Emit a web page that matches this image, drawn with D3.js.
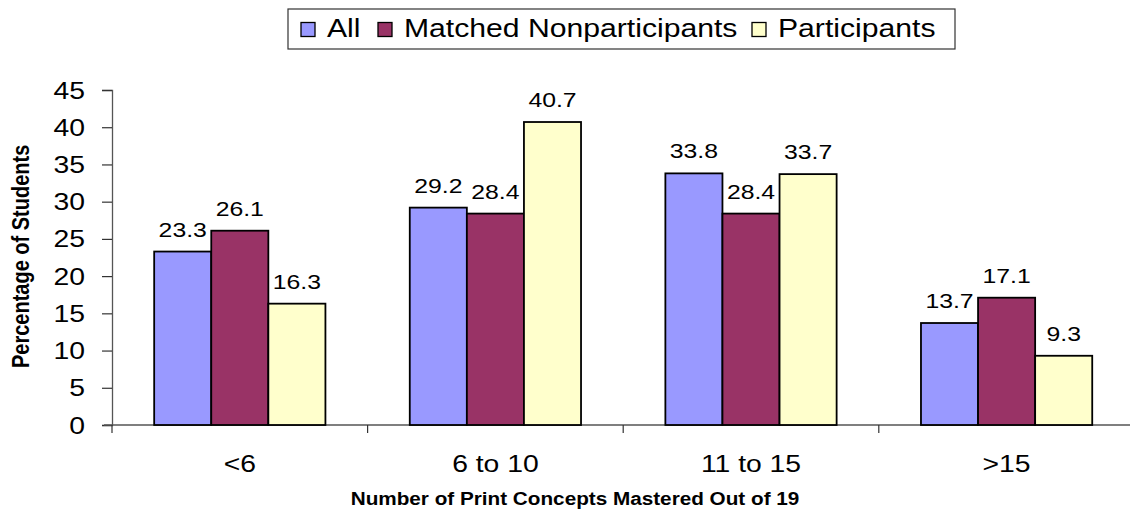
<!DOCTYPE html>
<html>
<head>
<meta charset="utf-8">
<script src="https://cdn.jsdelivr.net/npm/d3@7"></script>
<style>
body{margin:0;background:#fff;}
text{font-family:"Liberation Sans",Arial,sans-serif;fill:#000;}
</style>
</head>
<body>
<svg id="chart" width="1130" height="511"></svg>
<script>
const categories = ["<6", "6 to 10", "11 to 15", ">15"];
const seriesNames = ["All", "Matched Nonparticipants", "Participants"];
const allValues = [23.3, 29.2, 33.8, 13.7];
const matchedValues = [26.1, 28.4, 28.4, 17.1];
const participantValues = [16.3, 40.7, 33.7, 9.3];
const yTicks = [0, 5, 10, 15, 20, 25, 30, 35, 40, 45];
const colors = ["#9999FF", "#993366", "#FFFFCC"];

const series = [allValues, matchedValues, participantValues];
const svg = d3.select("#chart");
const x0 = 112, x1 = 112 + 4 * 255.6, yBottom = 425, yTop = 90;
const SX = 1.18; // horizontal stretch of the original chart's text

const x = d3.scaleBand().domain(categories).range([x0, x1]).paddingInner(0.33).paddingOuter(0.165);
const xs = d3.scaleBand().domain(seriesNames).range([0, x.bandwidth()]);
const y = d3.scaleLinear().domain([0, 45]).range([yBottom, yTop]);

// y axis
const yAxis = d3.axisLeft(y).tickValues(yTicks).tickSize(10).tickFormat("");
const gy = svg.append("g").attr("transform", `translate(${x0},0)`).call(yAxis);
gy.select(".domain").attr("stroke", "#555").attr("stroke-width", 1.3);
gy.selectAll(".tick line").attr("stroke", "#333").attr("stroke-width", 1.2);
svg.append("g").selectAll("text").data(yTicks).join("text")
  .attr("transform", d => `translate(85,${y(d) + 8.5}) scale(${SX},1)`)
  .attr("text-anchor", "end").attr("font-size", 24).text(d => d);

// x axis with ticks at category boundaries
const boundaryScale = d3.scaleLinear().domain([0, 4]).range([x0, x1]);
const gx = svg.append("g").attr("transform", `translate(0,${yBottom})`);
gx.append("line").attr("x1", x0 - 8).attr("x2", x1).attr("stroke", "#555").attr("stroke-width", 1.3);
gx.selectAll("line.tk").data([0, 1, 2, 3, 4]).join("line").attr("class", "tk")
  .attr("x1", d => boundaryScale(d)).attr("x2", d => boundaryScale(d)).attr("y1", 0).attr("y2", 8)
  .attr("stroke", "#333").attr("stroke-width", 1.2);
gx.selectAll("text.cat").data(categories).join("text").attr("class", "cat")
  .attr("transform", d => `translate(${x(d) + x.bandwidth() / 2},47) scale(${SX},1)`)
  .attr("text-anchor", "middle").attr("font-size", 24).text(d => d);

// bars
categories.forEach((c, ci) => {
  series.forEach((vals, si) => {
    const v = vals[ci];
    const bx = x(c) + xs(seriesNames[si]);
    svg.append("rect").attr("x", bx).attr("y", y(v)).attr("width", xs.bandwidth()).attr("height", y(0) - y(v))
      .attr("fill", colors[si]).attr("stroke", "#000").attr("stroke-width", 1.8);
    svg.append("text")
      .attr("transform", `translate(${bx + xs.bandwidth() / 2},${y(v) - 15}) scale(${SX},1)`)
      .attr("text-anchor", "middle").attr("font-size", 21).text(v.toFixed(1));
  });
});

// axis titles
svg.append("text").attr("transform", `translate(575,505) scale(1.12,1)`).attr("text-anchor", "middle")
  .attr("font-size", 18.5).attr("font-weight", "bold").text("Number of Print Concepts Mastered Out of 19");
svg.append("text").attr("transform", `translate(29,368) scale(1.2,1) rotate(-90)`).attr("text-anchor", "start")
  .attr("font-size", 20).attr("font-weight", "bold").text("Percentage of Students");

// legend
const lg = svg.append("g");
lg.append("rect").attr("x", 288).attr("y", 9).attr("width", 667).attr("height", 40).attr("fill", "#fff").attr("stroke", "#333").attr("stroke-width", 1.2);
const legendX = [301, 378, 752];
seriesNames.forEach((n, i) => {
  lg.append("rect").attr("x", legendX[i]).attr("y", 22.5).attr("width", 14).attr("height", 14).attr("fill", colors[i]).attr("stroke", "#000").attr("stroke-width", 1.3);
  lg.append("text").attr("transform", `translate(${legendX[i] + 26},37) scale(1.16,1)`).attr("font-size", 26).text(n);
});
</script>
</body>
</html>
